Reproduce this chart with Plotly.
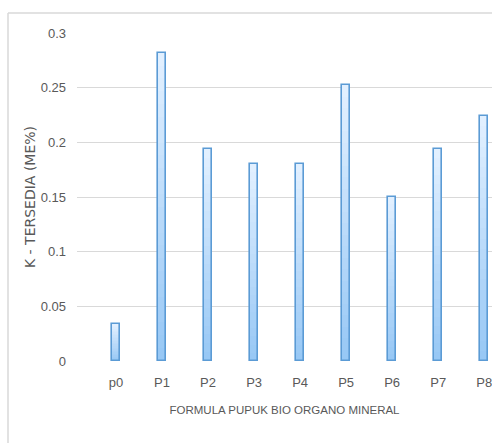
import plotly.graph_objects as go

# K-tersedia per pupuk formula
categories = ["p0", "P1", "P2", "P3", "P4", "P5", "P6", "P7", "P8"]
k_tersedia = [0.034, 0.282, 0.194, 0.180, 0.180, 0.252, 0.150, 0.194, 0.224]
y_ticks = [0, 0.05, 0.1, 0.15, 0.2, 0.25, 0.3]
y_tick_text = ["0", "0.05", "0.1", "0.15", "0.2", "0.25", "0.3"]

W, H = 492, 443
ML, MR, MT, MB = 77, 0, 33, 82
BAR_W = 0.18
N_STEPS = 24

top_rgb = (226, 240, 255)
bot_rgb = (152, 200, 245)

fig = go.Figure()

# vertical gradient inside each bar, built from stacked slices of the value
for k in range(N_STEPS):
    t = k / (N_STEPS - 1)
    r, g, b = (round(bot_rgb[i] + (top_rgb[i] - bot_rgb[i]) * t) for i in range(3))
    fig.add_trace(go.Bar(
        x=categories,
        y=[v / N_STEPS for v in k_tersedia],
        base=[v * k / N_STEPS for v in k_tersedia],
        width=BAR_W,
        marker=dict(color=f"rgb({r},{g},{b})", line=dict(width=0)),
        hoverinfo="skip",
        showlegend=False,
    ))

# outline of each bar
fig.add_trace(go.Bar(
    x=categories,
    y=k_tersedia,
    width=BAR_W,
    marker=dict(color="rgba(0,0,0,0)", line=dict(color="#5b9bd5", width=1.6)),
    showlegend=False,
))

plot_w = W - ML - MR
plot_h = H - MT - MB


def px_x(px):
    return (px - ML) / plot_w


def px_y(py):
    return (H - MB - py) / plot_h


border = "#d9d9d9"
shapes = [
    dict(type="line", xref="paper", yref="paper",
         x0=px_x(8), x1=px_x(W + 5), y0=px_y(13), y1=px_y(13),
         line=dict(color=border, width=1.5)),
    dict(type="line", xref="paper", yref="paper",
         x0=px_x(8), x1=px_x(8), y0=px_y(13), y1=px_y(H + 5),
         line=dict(color=border, width=1.5)),
]

FONT = "Liberation Sans Narrow, Arial Narrow, Liberation Sans, Arial, sans-serif"
tick_font = dict(family=FONT, size=13, color="#595959")

fig.update_layout(
    width=W, height=H,
    margin=dict(l=ML, r=MR, t=MT, b=MB, pad=0),
    paper_bgcolor="white",
    plot_bgcolor="white",
    barmode="overlay",
    bargap=0,
    shapes=shapes,
    font=tick_font,
    xaxis=dict(
        type="category",
        range=[-0.848, 8.17],
        showgrid=False,
        zeroline=False,
        showline=False,
        ticks="",
        tickfont=tick_font,
        ticklabelstandoff=12,
        title=dict(text="FORMULA PUPUK BIO ORGANO MINERAL",
                   font=dict(family=FONT, size=11.5, color="#595959"),
                   standoff=16),
        automargin=False,
    ),
    yaxis=dict(
        range=[0, 0.3],
        tickvals=y_ticks,
        ticktext=y_tick_text,
        showgrid=True,
        gridcolor="#d9d9d9",
        gridwidth=1,
        zeroline=False,
        showline=False,
        ticks="",
        tickfont=tick_font,
        ticklabelstandoff=10,
        title=dict(text="K - TERSEDIA (ME%)",
                   font=dict(family="DejaVu Sans, sans-serif", size=14, color="#595959"),
                   standoff=1),
        automargin=False,
    ),
)

fig.write_html("out.html")
